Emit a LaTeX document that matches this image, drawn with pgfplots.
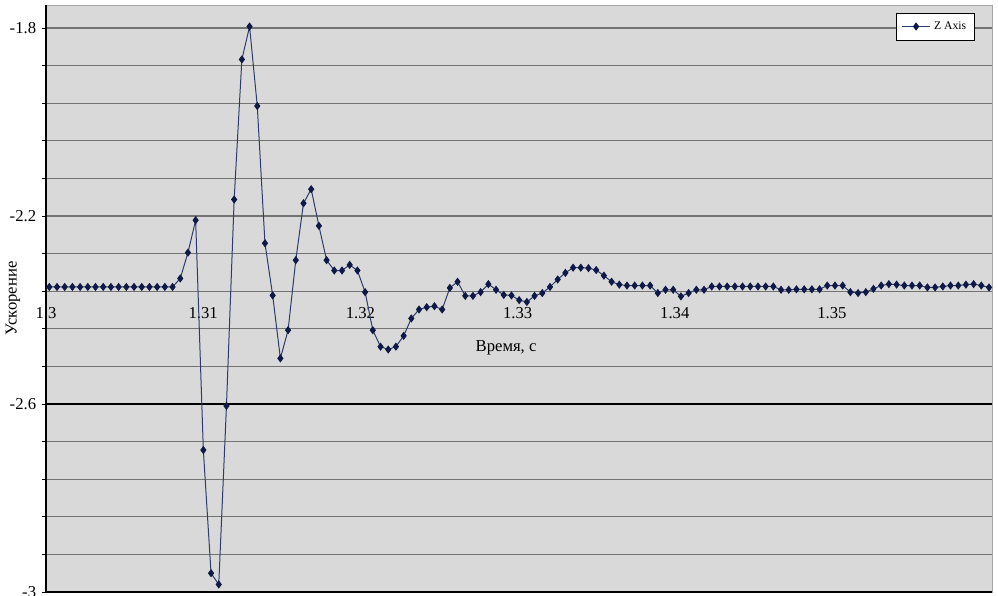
\documentclass[border=0pt]{standalone}
\usepackage{fontspec}
\setmainfont{Liberation Serif}
\usepackage{pgfplots}
\usepackage{pgfplotstable}
\pgfplotsset{compat=1.18}
\definecolor{bgc}{RGB}{217,217,217}
\definecolor{gridc}{RGB}{115,115,115}
\definecolor{linec}{RGB}{45,60,110}
\definecolor{markc}{RGB}{15,25,70}
\pgfplotstableread{
t a
1.30021 -2.351
1.30070 -2.351
1.30119 -2.351
1.30168 -2.351
1.30217 -2.351
1.30266 -2.351
1.30315 -2.351
1.30364 -2.351
1.30413 -2.351
1.30462 -2.351
1.30511 -2.351
1.30560 -2.351
1.30609 -2.351
1.30658 -2.351
1.30707 -2.351
1.30756 -2.351
1.30805 -2.351
1.30854 -2.333
1.30903 -2.278
1.30952 -2.209
1.31001 -2.698
1.31050 -2.960
1.31099 -2.984
1.31148 -2.604
1.31197 -2.165
1.31246 -1.867
1.31295 -1.797
1.31344 -1.966
1.31393 -2.258
1.31442 -2.369
1.31491 -2.503
1.31540 -2.443
1.31589 -2.294
1.31638 -2.173
1.31687 -2.143
1.31736 -2.221
1.31785 -2.294
1.31834 -2.316
1.31883 -2.316
1.31932 -2.304
1.31981 -2.316
1.32030 -2.362
1.32079 -2.443
1.32128 -2.478
1.32177 -2.484
1.32226 -2.478
1.32275 -2.455
1.32324 -2.418
1.32373 -2.399
1.32422 -2.394
1.32471 -2.392
1.32520 -2.399
1.32569 -2.353
1.32618 -2.340
1.32667 -2.370
1.32716 -2.370
1.32765 -2.362
1.32814 -2.345
1.32863 -2.357
1.32912 -2.368
1.32961 -2.369
1.33010 -2.379
1.33059 -2.383
1.33108 -2.370
1.33157 -2.364
1.33206 -2.351
1.33255 -2.335
1.33304 -2.321
1.33353 -2.310
1.33402 -2.310
1.33451 -2.311
1.33500 -2.315
1.33549 -2.327
1.33598 -2.340
1.33647 -2.346
1.33696 -2.348
1.33745 -2.348
1.33794 -2.348
1.33843 -2.348
1.33892 -2.364
1.33941 -2.357
1.33990 -2.357
1.34039 -2.371
1.34088 -2.364
1.34137 -2.357
1.34186 -2.357
1.34235 -2.350
1.34284 -2.350
1.34333 -2.350
1.34382 -2.350
1.34431 -2.350
1.34480 -2.350
1.34529 -2.350
1.34578 -2.350
1.34627 -2.350
1.34676 -2.357
1.34725 -2.357
1.34774 -2.356
1.34823 -2.356
1.34872 -2.356
1.34921 -2.356
1.34970 -2.348
1.35019 -2.348
1.35068 -2.348
1.35117 -2.362
1.35166 -2.364
1.35215 -2.362
1.35264 -2.355
1.35313 -2.348
1.35362 -2.345
1.35411 -2.346
1.35460 -2.348
1.35509 -2.348
1.35558 -2.348
1.35607 -2.352
1.35656 -2.352
1.35705 -2.350
1.35754 -2.348
1.35803 -2.348
1.35852 -2.346
1.35901 -2.345
1.35950 -2.348
1.35999 -2.352
}\zaxis

\begin{document}
\begin{tikzpicture}
\begin{axis}[
  at={(0,0)}, anchor=south west,
  width=567.6pt, height=352.2pt, scale only axis,
  xmin=1.3, xmax=1.36018, ymin=-3, ymax=-1.7511,
  axis line style={draw=none},
  axis background/.style={fill=bgc, draw={rgb,255:red,165;green,165;blue,165}, line width=0.5pt},
  clip=false,
  xtick={1.3,1.31,1.32,1.33,1.34,1.35},
  xticklabels={1.3,1.31,1.32,1.33,1.34,1.35},
  xtick style={draw=none},
  xtick align=inside,
  xticklabel style={anchor=center, yshift=167.6pt},
  ytick={-3,-2.6,-2.2,-1.8},
  yticklabels={-3,-2.6,-2.2,-1.8},
  minor ytick={-2.92,-2.84,-2.76,-2.68,-2.52,-2.44,-2.36,-2.28,-2.12,-2.04,-1.96,-1.88},
  ytick pos=left,
  ytick align=outside,
  major tick length=2.4pt, minor tick length=2.4pt,
  ytick style={black, line width=0.5pt},
  minor y tick style={black, line width=0.5pt},
  ymajorgrids, yminorgrids,
  major grid style={gridc, line width=0.8pt},
  minor grid style={gridc, line width=0.8pt},
  tick label style={font=\fontsize{10}{12}\selectfont, text=black},
  xlabel={Время, с},
  xlabel style={at={(axis description cs:0.4863,0.4157)}, anchor=center, font=\fontsize{10}{12}\selectfont},
  ylabel={Ускорение},
  ylabel style={at={(axis description cs:-0.0349,0.5)}, anchor=center, font=\fontsize{10}{12}\selectfont},
  legend style={at={(0.982,0.987)}, anchor=north east, draw=black, fill=white, line width=0.5pt,
    font=\fontsize{7}{8}\selectfont, inner xsep=3pt, inner ysep=3pt},
  legend cell align=left,
]
\draw[black, line width=0.7pt] (axis cs:1.3,-2.6) -- (axis cs:1.36018,-2.6);
\draw[black, line width=0.7pt] (rel axis cs:0,0) -- (rel axis cs:0,1);
\draw[black, line width=0.7pt] (rel axis cs:0,0) -- (rel axis cs:1,0);
\addplot[color=linec, line width=0.6pt, mark=diamond*, mark size=2pt,
  mark options={fill=markc, draw=markc, solid}] table[x=t, y=a]{\zaxis};
\addlegendentry{Z Axis}
\end{axis}
\pgfresetboundingbox
\path (-27.6pt,-2.4pt) rectangle (571.2pt,355.2pt);
\end{tikzpicture}
\end{document}
